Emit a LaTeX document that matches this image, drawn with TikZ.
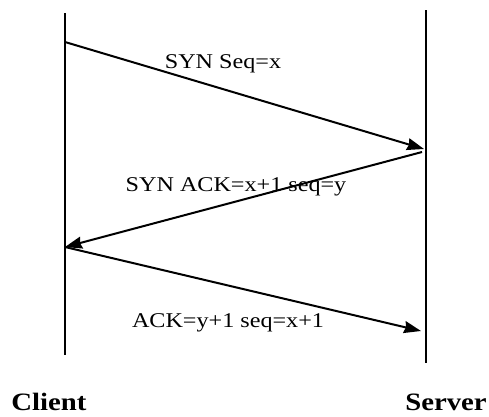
\documentclass[tikz,border=0pt]{standalone}
\usepackage{fontspec}
\setmainfont{Liberation Serif}
\usetikzlibrary{arrows.meta}
\tikzset{
  lifeline/.style={line width=2pt},
  msg/.style={line width=2pt, -{Stealth[length=17pt,width=12pt,inset=1.5pt]}},
  msglabel/.style={anchor=base, inner sep=0pt, font=\fontsize{21}{24}\selectfont},
  party/.style={anchor=base, inner sep=0pt, font=\fontsize{25}{28}\selectfont\bfseries},
}
\newcommand{\wide}[1]{\scalebox{1.15}[1]{#1}}
\begin{document}
\begin{tikzpicture}[x=1pt, y=-1pt]
  \useasboundingbox (0,0) rectangle (489,416);
  % lifelines
  \coordinate (ctop) at (65,13);
  \coordinate (cbot) at (65,355);
  \coordinate (stop) at (426,10);
  \coordinate (sbot) at (426,363);
  \draw[lifeline] (ctop) -- (cbot);
  \draw[lifeline] (stop) -- (sbot);
  % message end points
  \coordinate (c1) at (65,42);
  \coordinate (s1) at (424,149);
  \coordinate (s2) at (422,152);
  \coordinate (c2) at (65,247);
  \coordinate (s3) at (421,331);
  % messages
  \draw[msg] (c1) -- (s1);
  \draw[msg] (s2) -- (c2);
  \draw[msg] (c2) -- (s3);
  % labels
  \node[msglabel] (l1) at (223,68) {\wide{SYN Seq=x}};
  \node[msglabel] (l2) at (236,191) {\wide{SYN ACK=x+1 seq=y}};
  \node[msglabel] (l3) at (228,327) {\wide{ACK=y+1 seq=x+1}};
  \node[party] (client) at (49,410) {\wide{Client}};
  \node[party] (server) at (446,410) {\wide{Server}};
\end{tikzpicture}
\end{document}
